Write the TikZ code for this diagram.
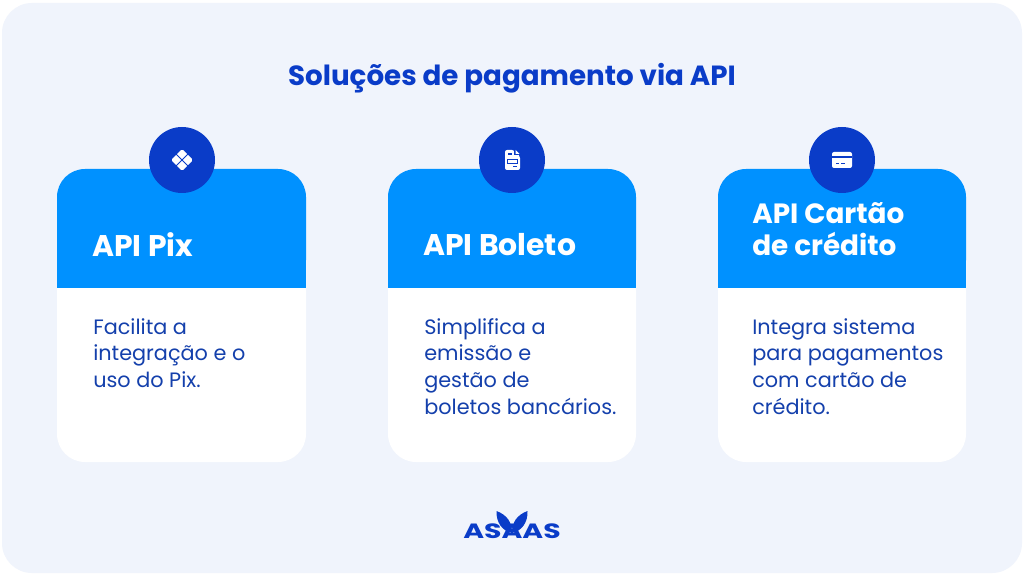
\documentclass[tikz,border=0pt]{standalone}
\usepackage{fontspec}
\setmainfont{Poppins}
\definecolor{panelbg}{HTML}{F0F4FC}
\definecolor{darkblue}{HTML}{0A3CC8}
\definecolor{headblue}{HTML}{0091FF}
\definecolor{bodyblue}{HTML}{1440AC}
\tikzset{
  cardtitle/.style={anchor=west,align=left,text=white,inner sep=0pt,font=\fontsize{22.4}{24}\selectfont\bfseries},
  cardtext/.style={anchor=north west,align=left,text=bodyblue,inner sep=0pt,font=\fontsize{15.6}{20.1}\selectfont},
  iconcircle/.style={circle,fill=darkblue,minimum size=49.5pt,inner sep=0pt},
  iconpart/.style={fill=white,draw=none}
}
\begin{document}
\begin{tikzpicture}[x=0.75pt,y=-0.75pt]
    \useasboundingbox (0,0) rectangle (1024,577);
    \fill[white] (0,0) rectangle (1024,577);
    \fill[panelbg,rounded corners=22.5pt] (2,3) rectangle (1022,573);
    \node[text=darkblue,font=\fontsize{20.8}{24}\selectfont\bfseries] (title) at (512,78) {Soluções de pagamento via API};
    % first card
    \fill[white,rounded corners=21pt] (57,200) rectangle (306,462);
    \fill[headblue,rounded corners=21pt] (57,169) -- (57,288) -- (306,288) -- (306,169) -- cycle;
    \fill[headblue] (57,230) rectangle (306,288);
    \node[iconcircle] (pixcircle) at (182,160) {};
    \node[cardtitle] (pixtitle) at (92,245) {API Pix};
    \node[cardtext] (pixtext) at (93,318) {Facilita a\\integração e o\\uso do Pix.};
    % second card
    \fill[white,rounded corners=21pt] (388,200) rectangle (636,462);
    \fill[headblue,rounded corners=21pt] (388,169) -- (388,288) -- (636,288) -- (636,169) -- cycle;
    \fill[headblue] (388,230) rectangle (636,288);
    \node[iconcircle] (boletocircle) at (512,160) {};
    \node[cardtitle] (boletotitle) at (423,245) {API Boleto};
    \node[cardtext] (boletotext) at (424,318) {Simplifica a\\emissão e\\gestão de\\boletos bancários.};
    % third card
    \fill[white,rounded corners=21pt] (718,200) rectangle (966,462);
    \fill[headblue,rounded corners=21pt] (718,169) -- (718,288) -- (966,288) -- (966,169) -- cycle;
    \fill[headblue] (718,230) rectangle (966,288);
    \node[iconcircle] (cartaocircle) at (842,160) {};
    \node[cardtitle,font=\fontsize{20.9}{24}\selectfont\bfseries] (cartaotitle) at (752,229) {API Cartão\\de crédito};
    \node[cardtext] (cartaotext) at (752,318) {Integra sistema\\para pagamentos\\com cartão de\\crédito.};
    % pix icon
    \fill[iconpart,rounded corners=1.2pt] (182,149) -- (188,155) -- (182,161) -- (176,155) -- cycle;
    \fill[iconpart,rounded corners=1.2pt] (182,159) -- (188,165) -- (182,171) -- (176,165) -- cycle;
    \fill[iconpart,rounded corners=1.2pt] (177,154) -- (182,160) -- (177,166) -- (171,160) -- cycle;
    \fill[iconpart,rounded corners=1.2pt] (187,154) -- (193,160) -- (187,166) -- (182,160) -- cycle;
    \draw[darkblue,line width=0.6pt] (176,154) -- (188,166);
    \draw[darkblue,line width=0.6pt] (188,154) -- (176,166);
    % boleto icon
    \fill[iconpart,rounded corners=1.5pt] (505,150) -- (514,150) -- (520,156) -- (520,170) -- (505,170) -- cycle;
    \fill[darkblue] (514,150) -- (514,155) -- (519,155) -- (516,150) -- cycle;
    \fill[iconpart] (515.5,150) -- (515.5,154) -- (519.5,154) -- cycle;
    \fill[darkblue] (508,153) rectangle (512,155);
    \draw[darkblue,line width=0.6pt] (507.5,159.5) rectangle (517.5,163.5);
    \fill[darkblue] (513,166) rectangle (517,167);
    % card icon
    \fill[iconpart,rounded corners=1.5pt] (832,152) rectangle (852,168);
    \fill[darkblue] (832,156.5) rectangle (852,158.5);
    \fill[darkblue] (836,163) rectangle (839,164);
    \fill[darkblue] (841,163) rectangle (845,164);
    % logo
    \node[text=darkblue,xscale=1.37,font=\fontsize{15.5}{18}\selectfont\bfseries] (logo) at (512,531) {ASAAS};
    \fill[darkblue] (496.5,511) .. controls (507,515) and (512,522) .. (512,533) .. controls (502,531) and (496,522) .. (496.5,511) -- cycle;
    \fill[darkblue] (527.5,511) .. controls (517,515) and (512,522) .. (512,533) .. controls (522,531) and (528,522) .. (527.5,511) -- cycle;
\end{tikzpicture}
\end{document}
